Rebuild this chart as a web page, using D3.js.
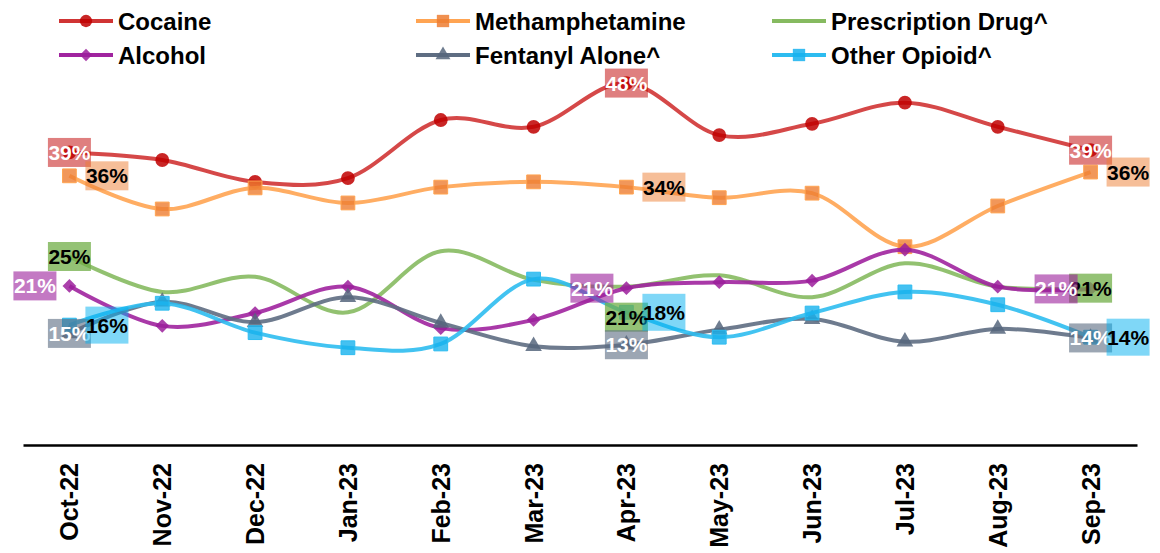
<!doctype html>
<html>
<head>
<meta charset="UTF-8">
<title>Drug trends</title>
<script src="https://d3js.org/d3.v7.min.js"></script>
<style>
  body { margin: 0; background: #fff; }
  text { font-family: "Liberation Sans", Arial, sans-serif; }
</style>
</head>
<body>
<svg id="chart" width="1160" height="553"></svg>
<script>
// data (percent)
var months = ["Oct-22","Nov-22","Dec-22","Jan-23","Feb-23","Mar-23","Apr-23","May-23","Jun-23","Jul-23","Aug-23","Sep-23"];
var seriesNames = ["Cocaine","Methamphetamine","Prescription Drug^","Alcohol","Fentanyl Alone^","Other Opioid^"];
var cocaine      = [38.8, 37.8, 34.9, 35.4, 43.1, 42.2, 48.0, 41.1, 42.6, 45.4, 42.2, 39.1];
var meth         = [35.7, 31.3, 34.1, 32.1, 34.2, 34.9, 34.2, 32.8, 33.4, 26.3, 31.7, 36.2];
var prescription = [25.0, 20.3, 22.3, 17.6, 25.7, 21.9, 21.0, 22.5, 19.6, 24.1, 21.0, 20.8];
var alcohol      = [21.1, 15.8, 17.5, 21.0, 15.5, 16.6, 20.8, 21.6, 21.8, 25.9, 21.0, 20.7];
var fentanyl     = [14.8, 19.0, 16.3, 19.6, 16.2, 13.1, 13.3, 15.3, 16.7, 13.7, 15.4, 14.2];
var otherOpioid  = [15.9, 18.8, 14.9, 12.9, 13.4, 22.0, 17.6, 14.3, 17.5, 20.3, 18.6, 14.3];
var labelIdx     = [0, 6, 11];

var values = [cocaine, meth, prescription, alcohol, fentanyl, otherOpioid];

// styles
var styles = [
  {line:"#d03434", mark:"#c00000", sym:"circle",   box:"#c00000", boxOp:0.5,  txt:"#fff", place:["center","center","center"]},
  {line:"#ffa452", mark:"#ed7d31", sym:"square",   box:"#ed7d31", boxOp:0.5,  txt:"#000", place:["right","right","right"]},
  {line:"#86ba60", mark:null,      sym:null,       box:"#70ad47", boxOp:0.75, txt:"#000", place:["center","below","center"]},
  {line:"#a0249f", mark:"#9b1f9b", sym:"diamond",  box:"#9b1f9b", boxOp:0.6,  txt:"#fff", place:["left","left","left"]},
  {line:"#5e6d82", mark:"#56667c", sym:"triangle", box:"#5a6a80", boxOp:0.6,  txt:"#fff", place:["center","center","center"]},
  {line:"#2dbcf0", mark:"#16b2ee", sym:"square",   box:"#00b0f0", boxOp:0.5,  txt:"#000", place:["right","right","right"], tall:true}
];

var svg = d3.select("#chart");

var x = d3.scaleBand().domain(months).range([23, 1137]).padding(0);
var y = d3.scaleLinear().domain([0, 50]).range([445, 68]);

function cx(i){ return x(months[i]) + x.bandwidth()/2; }

// x axis
var xAxis = svg.append("g")
  .attr("transform", "translate(0,445)")
  .call(d3.axisBottom(x).tickSize(0).tickSizeOuter(0));
xAxis.select(".domain").attr("stroke", "#000").attr("stroke-width", 2.5);
xAxis.selectAll("text")
  .attr("transform", "rotate(-90)")
  .attr("text-anchor", "end")
  .attr("x", -18)
  .attr("y", 0)
  .attr("dy", "0.36em")
  .attr("font-size", 25)
  .attr("font-weight", "bold")
  .attr("font-family", "'Liberation Sans', Arial, sans-serif")
  .attr("fill", "#000");

var line = d3.line()
  .x(function(d, i){ return cx(i); })
  .y(function(d){ return y(d); })
  .curve(d3.curveCatmullRom.alpha(0));

function symbolPath(s, size){
  if (s === "circle") return d3.symbol(d3.symbolCircle, size)();
  if (s === "square") return d3.symbol(d3.symbolSquare, size)();
  if (s === "diamond") return d3.symbol(d3.symbolSquare, size)();
  if (s === "triangle") return d3.symbol(d3.symbolTriangle, size)();
}
function markSize(s){
  if (s === "circle") return 150;
  if (s === "square") return 190;
  if (s === "diamond") return 95;
  return 120;
}

// lines + markers
values.forEach(function(vals, k){
  var st = styles[k];
  var g = svg.append("g");
  g.append("path")
    .attr("d", line(vals))
    .attr("fill", "none")
    .attr("stroke", st.line)
    .attr("stroke-width", 4)
    .attr("stroke-opacity", 0.9);
  if (st.sym) {
    g.selectAll("path.m").data(vals).enter().append("path")
      .attr("class", "m")
      .attr("d", symbolPath(st.sym, markSize(st.sym)))
      .attr("transform", function(d, i){
        return "translate(" + cx(i) + "," + y(d) + ")" + (st.sym === "diamond" ? " rotate(45)" : "");
      })
      .attr("fill", st.mark)
      .attr("fill-opacity", st.sym === "square" ? 0.8 : 0.85)
      .attr("stroke", st.sym === "square" ? st.line : "none")
      .attr("stroke-width", 1);
  }
});

// data labels
values.forEach(function(vals, k){
  var st = styles[k];
  var bw = 43, bh = st.tall ? 37 : 29;
  labelIdx.forEach(function(i, j){
    var px = cx(i), py = y(vals[i]);
    var bx = px - bw/2, by = py - bh/2;
    var p = st.place[j];
    if (p === "right") bx = px + 16;
    if (p === "left") bx = px - 13 - bw;
    if (p === "below") by = py + 16;
    svg.append("rect")
      .attr("x", bx).attr("y", by)
      .attr("width", bw).attr("height", bh)
      .attr("fill", st.box).attr("fill-opacity", st.boxOp);
    svg.append("text")
      .attr("x", bx + bw/2).attr("y", by + bh/2)
      .attr("dy", "0.36em")
      .attr("text-anchor", "middle")
      .attr("font-family", "Lato, 'Open Sans', sans-serif")
      .attr("font-weight", "bold")
      .attr("font-size", 21)
      .attr("fill", st.txt)
      .text(Math.round(vals[i]) + "%");
  });
});

// legend
var legX = [59, 416, 772], legY = [21, 55];
seriesNames.forEach(function(name, k){
  var st = styles[k];
  var lx = legX[k % 3], ly = legY[Math.floor(k / 3)];
  var g = svg.append("g").attr("transform", "translate(" + lx + "," + ly + ")");
  g.append("line")
    .attr("x1", 0).attr("x2", 54).attr("y1", 0).attr("y2", 0)
    .attr("stroke", st.line).attr("stroke-width", 4);
  if (st.sym) {
    g.append("path")
      .attr("d", symbolPath(st.sym, markSize(st.sym) * 0.8))
      .attr("transform", "translate(27,0)" + (st.sym === "diamond" ? " rotate(45)" : ""))
      .attr("fill", st.mark).attr("fill-opacity", 0.85);
  }
  g.append("text")
    .attr("x", 59).attr("y", 0).attr("dy", "0.36em")
    .attr("font-size", 24)
    .attr("font-weight", "bold")
    .attr("fill", "#000")
    .text(name);
});
</script>
</body>
</html>
